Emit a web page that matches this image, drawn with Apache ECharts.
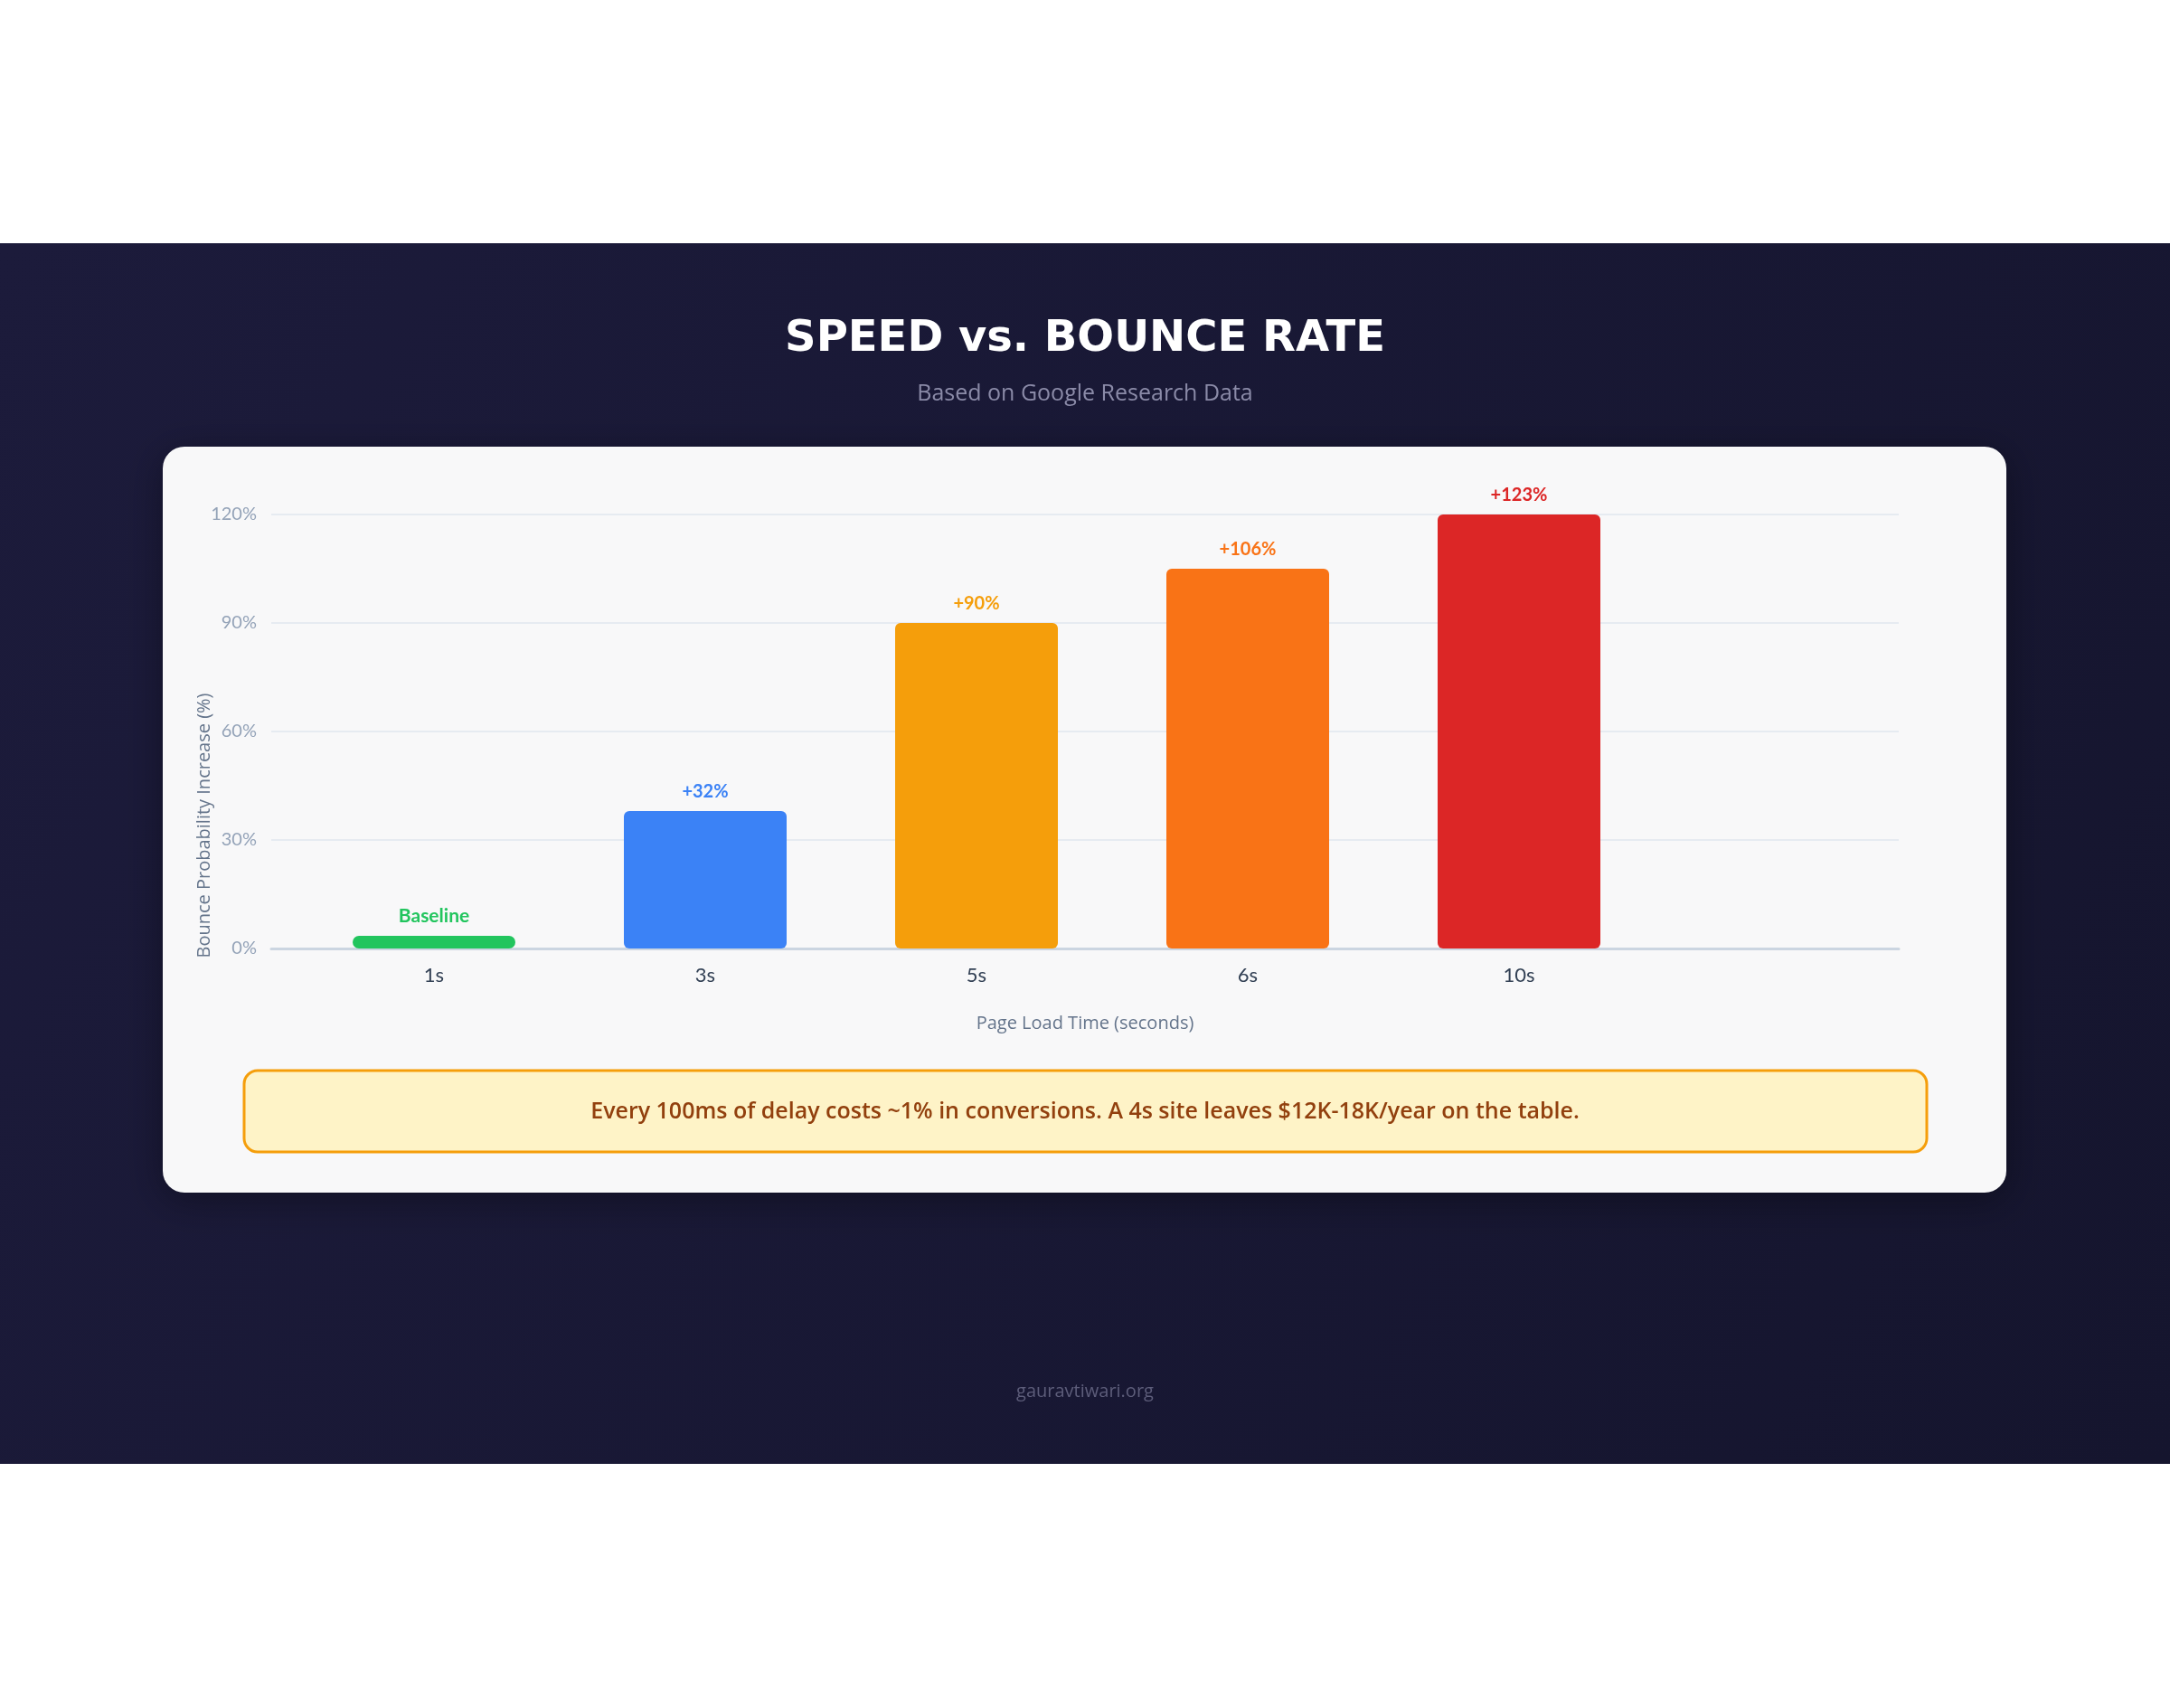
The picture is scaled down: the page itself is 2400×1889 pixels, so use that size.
<!DOCTYPE html>
<html>
<head>
<meta charset="utf-8">
<script src="https://cdn.jsdelivr.net/npm/echarts@6/dist/echarts.min.js"></script>
<style>
html,body{margin:0;padding:0;background:#ffffff;}
#chart{width:2400px;height:1889px;}
</style>
</head>
<body>
<div id="chart"></div>
<script>
const categories = ['1s', '3s', '5s', '6s', '10s', ''];
const barValues = [3.5, 38, 90, 105, 120];
const barLabels = ['Baseline', '+32%', '+90%', '+106%', '+123%'];
const barColors = ['#22c55e', '#3b82f6', '#f59e0b', '#f97316', '#dc2626'];
const yTicks = [0, 30, 60, 90, 120];

const FONT = 'Lato, "Noto Sans", sans-serif';
const FONT2 = '"Open Sans", "Noto Sans", sans-serif';
const FONT3 = '"DejaVu Sans", "Open Sans", sans-serif';
const chart = echarts.init(document.getElementById('chart'), null, {renderer: 'canvas'});

const option = {
  backgroundColor: '#ffffff',
  title: {
    text: 'SPEED vs. BOUNCE RATE',
    subtext: 'Based on Google Research Data',
    left: 'center',
    top: 347,
    itemGap: 23,
    textStyle: {color: '#ffffff', fontSize: 48, fontWeight: 700, fontFamily: FONT3},
    subtextStyle: {color: '#8b8ba8', fontSize: 25, fontFamily: FONT2}
  },
  graphic: [
    {type: 'rect', z: -30, shape: {x: 0, y: 269, width: 2400, height: 1350},
     style: {fill: new echarts.graphic.LinearGradient(0, 0, 1, 1, [
       {offset: 0, color: '#1c1b3b'}, {offset: 1, color: '#15152e'}])}},
    {type: 'rect', z: -20, shape: {x: 180, y: 494, width: 2039, height: 825, r: 24},
     style: {fill: '#f8f8f9', shadowBlur: 40, shadowColor: 'rgba(0,0,0,0.35)', shadowOffsetY: 8}},
    {type: 'rect', z: -10, shape: {x: 270, y: 1184, width: 1861, height: 90, r: 15},
     style: {fill: '#fef3c7', stroke: '#f59e0b', lineWidth: 3}},
    {type: 'text', z: 10, x: 1200, y: 1230,
     style: {text: 'Every 100ms of delay costs ~1% in conversions. A 4s site leaves $12K-18K/year on the table.',
       fill: '#92400e', font: '600 25px ' + FONT2, textAlign: 'center', textVerticalAlign: 'middle'}},
    {type: 'text', z: 10, x: 1200, y: 1539,
     style: {text: 'gauravtiwari.org', fill: '#5d5d7a', font: '20px ' + FONT2,
       textAlign: 'center', textVerticalAlign: 'middle'}},
    {type: 'text', z: 10, x: 226, y: 913, rotation: Math.PI / 2,
     style: {text: 'Bounce Probability Increase (%)', fill: '#64748b', font: '20px ' + FONT2,
       textAlign: 'center', textVerticalAlign: 'middle'}}
  ],
  grid: [
    {left: 300, right: 300, top: 569, height: 480},
    {left: 330, right: 270, top: 569, height: 480}
  ],
  xAxis: [
    {type: 'value', gridIndex: 0, min: 0, max: 1,
     name: 'Page Load Time (seconds)', nameLocation: 'middle', nameGap: 73,
     nameTextStyle: {color: '#64748b', fontSize: 20, fontFamily: FONT2},
     axisLine: {show: true, onZero: false, lineStyle: {color: '#cbd5e1', width: 3}},
     axisTick: {show: false}, axisLabel: {show: false}, splitLine: {show: false}},
    {type: 'category', gridIndex: 1, data: categories,
     axisLine: {show: false}, axisTick: {show: false}, splitLine: {show: false},
     axisLabel: {color: '#334155', fontSize: 22, fontFamily: FONT, margin: 19}}
  ],
  yAxis: [
    {type: 'value', gridIndex: 0, min: yTicks[0], max: yTicks[yTicks.length - 1], interval: 30,
     axisLine: {show: false}, axisTick: {show: false},
     axisLabel: {formatter: '{value}%', color: '#94a3b8', fontSize: 20, fontFamily: FONT, margin: 16},
     splitLine: {lineStyle: {color: '#e6ebf1', width: 2}}},
    {type: 'value', gridIndex: 1, min: 0, max: 120, show: false,
     axisLabel: {show: false}, splitLine: {show: false}}
  ],
  series: [{
    type: 'bar',
    xAxisIndex: 1,
    yAxisIndex: 1,
    barWidth: 180,
    z: 5,
    data: barValues.map((v, i) => ({
      value: v,
      itemStyle: {color: barColors[i], borderRadius: i === 0 ? 8 : 6},
      label: {color: barColors[i], fontSize: i === 0 ? 21 : 20}
    })),
    label: {
      show: true,
      position: 'top',
      distance: 11,
      fontSize: 20,
      fontWeight: 700,
      fontFamily: FONT,
      formatter: p => barLabels[p.dataIndex]
    }
  }]
};
chart.setOption(option);
</script>
</body>
</html>
